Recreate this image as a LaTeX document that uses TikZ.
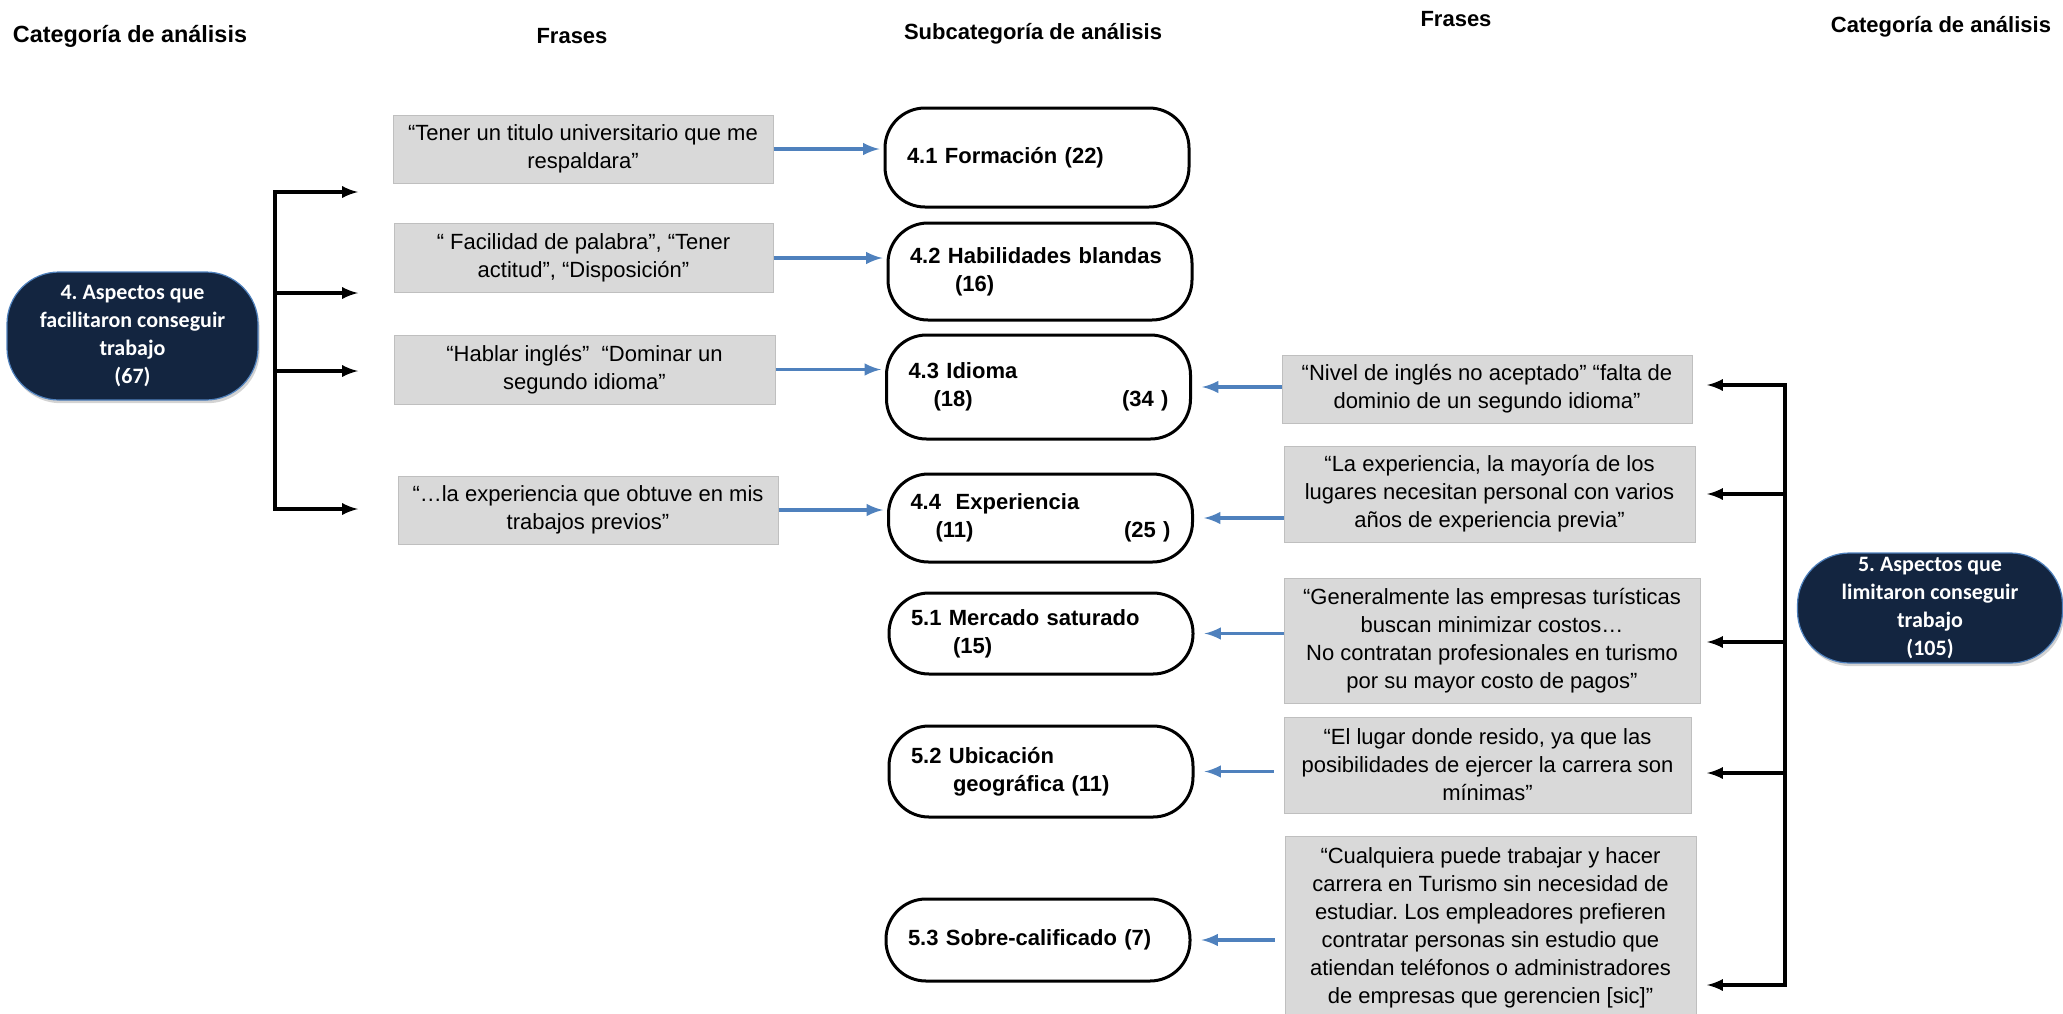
\documentclass[tikz,border=0pt]{standalone}
\usepackage{fontspec}
\setmainfont{Liberation Sans}
\newfontfamily\calibri{Carlito}
\usepackage{tikz}
\usetikzlibrary{arrows,shapes}
\usetikzlibrary{shadows}
\definecolor{navy}{RGB}{19,37,64}
\definecolor{navyedge}{RGB}{79,129,189}
\definecolor{quotegray}{RGB}{217,217,217}
\definecolor{quoteedge}{RGB}{191,191,191}
\definecolor{linkblue}{RGB}{79,129,189}
\newcommand{\txt}{\fontsize{11}{14}\selectfont}
\frenchspacing
\tikzset{
    header/.style={font=\txt\bfseries, anchor=base},
    category/.style={draw=navyedge, line width=0.6pt, fill=navy, text=white,
        rounded corners=26pt, align=center, inner sep=0pt, font=\calibri\txt\bfseries,
        drop shadow={opacity=0.35, shadow xshift=0.8pt, shadow yshift=-1.6pt}},
    quote/.style={draw=quoteedge, line width=0.5pt, fill=quotegray, align=center,
        inner sep=0pt, font=\txt},
    subcat/.style={draw=black, line width=1.5pt, fill=white, rounded corners=20pt,
        align=left, text width=130pt, inner xsep=11pt, inner ysep=0pt, font=\txt\bfseries},
    blueconn/.style={draw=linkblue, line width=1.8pt, -latex, shorten >=2pt},
    blackconn/.style={draw=black, line width=1.7pt, -latex},
}

\begin{document}
\begin{tikzpicture}[x=0.5pt, y=-0.5pt]
	\useasboundingbox (0,0) rectangle (2063,1013);
	% column titles
	\node[header, font=\fontsize{11.7}{14}\selectfont\bfseries] (hcat1) at (130,42) {Categoría de análisis};
	\node[header] (hfr1) at (572,43) {Frases};
	\node[header] (hsub) at (1033,39) {Subcategoría de análisis};
	\node[header] (hfr2) at (1456,26) {Frases};
	\node[header] (hcat2) at (1941,32) {Categoría de análisis};

	% categories
	\node[category, minimum width=125.5pt, minimum height=64pt] (cat4) at (132.5,336)
		{4. Aspectos que\\facilitaron conseguir\\trabajo\\(67)};
	\node[category, minimum width=132.5pt, minimum height=55pt] (cat5) at (1930,608)
		{5. Aspectos que\\limitaron conseguir\\trabajo\\(105)};

	% phrases, left
	\node[quote, minimum width=190pt, minimum height=34pt] (q41) at (583,149)
		{“Tener un titulo universitario que me\\respaldara”};
	\node[quote, minimum width=189.5pt, minimum height=34.5pt] (q42) at (583.5,258)
		{“ Facilidad de palabra”, “Tener\\actitud”, “Disposición”};
	\node[quote, minimum width=190.5pt, minimum height=34.5pt] (q43) at (584.5,369.5)
		{“Hablar inglés”\ \ “Dominar un\\segundo idioma”};
	\node[quote, minimum width=190pt, minimum height=34pt] (q44) at (588,510)
		{“…la experiencia que obtuve en mis\\trabajos previos”};

	% subcategories
	\node[subcat, minimum height=49.5pt] (s41) at (1037,157.5) {4.1 Formación (22)};
	\node[subcat, minimum height=48.5pt] (s42) at (1040,271.5)
		{4.2 Habilidades blandas\\\hspace*{22.5pt}(16)};
	\node[subcat, minimum height=52pt] (s43) at (1038.5,387)
		{4.3 Idioma\\\hspace*{12.5pt}(18)\hfill(34 )\hspace*{6pt}};
	\node[subcat, minimum height=44pt] (s44) at (1040.5,518)
		{4.4\ \ Experiencia\\\hspace*{12.5pt}(11)\hfill(25 )\hspace*{6pt}};
	\node[subcat, minimum height=40.5pt] (s51) at (1041,633.5)
		{5.1 Mercado saturado\\\hspace*{21pt}(15)};
	\node[subcat, minimum height=45.5pt] (s52) at (1041,771.5)
		{5.2 Ubicación\\\hspace*{21pt}geográfica (11)};
	\node[subcat, minimum height=41pt] (s53) at (1038,940) {5.3 Sobre-calificado (7)};

	% phrases, right
	\node[quote, minimum width=205pt, minimum height=34pt] (q43b) at (1487,389)
		{“Nivel de inglés no aceptado” “falta de\\dominio de un segundo idioma”};
	\node[quote, minimum width=205.5pt, minimum height=48pt] (q44b) at (1489.5,494)
		{“La experiencia, la mayoría de los\\lugares necesitan personal con varios\\años de experiencia previa”};
	\node[quote, minimum width=208pt, minimum height=62.5pt] (q51) at (1492,640.5)
		{“Generalmente las empresas turísticas\\buscan minimizar costos…\\No contratan profesionales en turismo\\por su mayor costo de pagos”};
	\node[quote, minimum width=203.5pt, minimum height=48pt] (q52) at (1487.5,765)
		{“El lugar donde resido, ya que las\\posibilidades de ejercer la carrera son\\mínimas”};
	\node[quote, minimum width=205.5pt, minimum height=92pt] (q53) at (1490.5,928)
		{“Cualquiera puede trabajar y hacer\\carrera en Turismo sin necesidad de\\estudiar. Los empleadores prefieren\\contratar personas sin estudio que\\atiendan teléfonos o administradores\\de empresas que gerencien [sic]”};

	% phrase -> subcategory
	\foreach \q/\s in {q41/s41,q42/s42,q43/s43,q44/s44}
		\draw[blueconn] (\q.east) -- (\q.east -| \s.west);
	\foreach \q/\s in {q43b/s43,q44b/s44,q51/s51}
		\draw[blueconn, shorten >=5pt] (\q.west |- \s.east) -- (\s.east);
	\foreach \q/\s in {q52/s52,q53/s53}
		\draw[blueconn, shorten >=5pt, shorten <=5pt] (\q.west |- \s.east) -- (\s.east);

	% left bracket
	\foreach \y [count=\i] in {192,293,371,509} {
		\coordinate (lfork\i) at (275,\y);
		\coordinate (ltip\i) at (358,\y);
	}
	\draw[blackconn, latex-latex] (ltip1) -- (lfork1) -- (lfork4) -- (ltip4);
	\foreach \i in {2,3}
		\draw[blackconn] (lfork\i) -- (ltip\i);

	% right bracket
	\foreach \y [count=\i] in {385,494,642,773,985} {
		\coordinate (rfork\i) at (1785,\y);
		\coordinate (rtip\i) at (1707,\y);
	}
	\draw[blackconn, latex-latex] (rtip1) -- (rfork1) -- (rfork5) -- (rtip5);
	\foreach \i in {2,3,4}
		\draw[blackconn] (rfork\i) -- (rtip\i);
\end{tikzpicture}
\end{document}
